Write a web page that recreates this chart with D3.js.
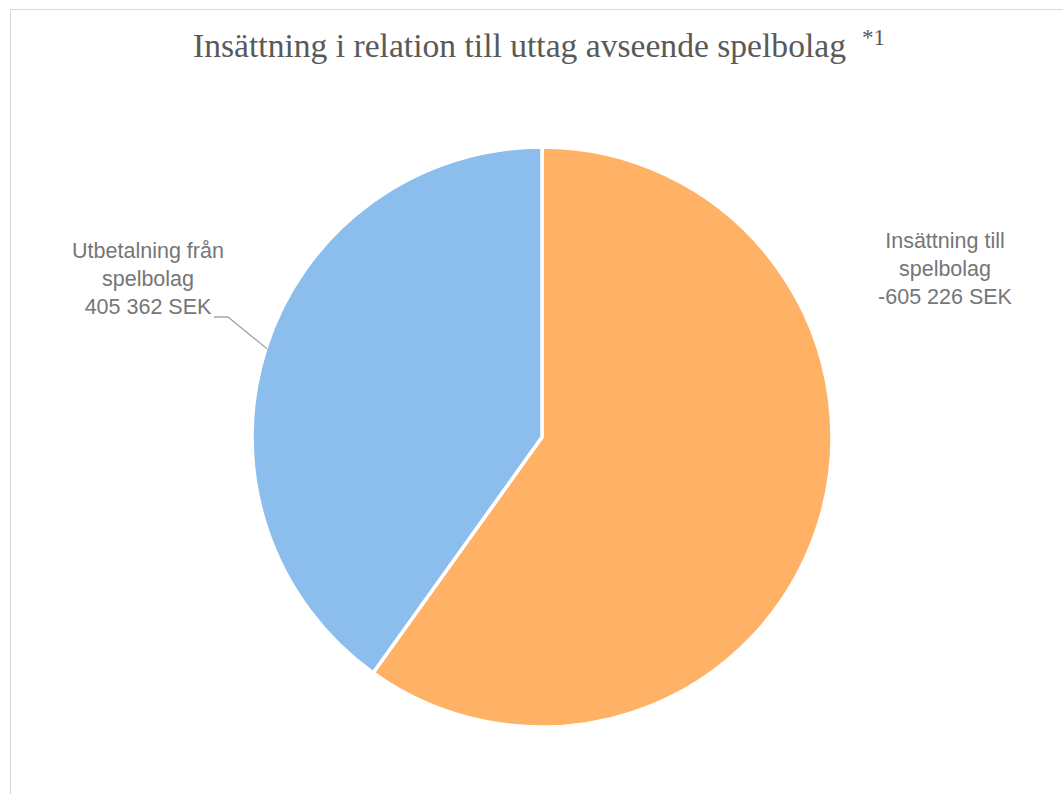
<!DOCTYPE html>
<html>
<head>
<meta charset="utf-8">
<script src="https://cdn.jsdelivr.net/npm/d3@7"></script>
<style>
  body { margin: 0; background: #fff; }
  svg text { fill: #595959; }
  svg text.slice-label { fill: #767676; }
</style>
</head>
<body>
<div id="chart"></div>
<script>
// data
const categories = ['Insättning till spelbolag', 'Utbetalning från spelbolag']
const labelLines = [['Insättning till', 'spelbolag', '-605 226 SEK'],
                    ['Utbetalning från', 'spelbolag', '405 362 SEK']]
const values = [605226, 405362]
const colors = ['#FFB266', '#8BBEEC']
const title = 'Insättning i relation till uttag avseende spelbolag'
const titleNote = '*1'

const width = 1063, height = 794
const cx = 542, cy = 437, radius = 290

const svg = d3.select('#chart').append('svg')
  .attr('width', width)
  .attr('height', height)

// chart frame
svg.append('rect')
  .attr('x', 10.5).attr('y', 9.5)
  .attr('width', width + 20).attr('height', height + 20)
  .attr('fill', 'none')
  .attr('stroke', '#d9d9d9')

// title
let titleText = svg.append('text')
  .attr('x', 193)
  .attr('y', 57)
  .attr('text-anchor', 'start')
  .style('font-family', '"Liberation Serif", "DejaVu Serif", serif')
titleText.append('tspan')
  .style('font-size', '34px')
  .attr('textLength', 653)
  .attr('lengthAdjust', 'spacingAndGlyphs')
  .text(title)
titleText.append('tspan')
  .attr('x', 862)
  .attr('y', 45)
  .style('font-size', '23px')
  .text(titleNote)

// pie
let pie = d3.pie().sort(null).value(function(d){ return d })
let arcs = pie(values)
let arc = d3.arc().innerRadius(0).outerRadius(radius)

let g = svg.append('g')
  .attr('transform', 'translate(' + cx + ',' + cy + ')')

g.selectAll('path.slice')
  .data(arcs)
  .enter().append('path')
  .attr('class', 'slice')
  .attr('d', arc)
  .attr('fill', function(d, i){ return colors[i] })
  .attr('stroke', '#fff')
  .attr('stroke-width', 3.5)
  .attr('stroke-linejoin', 'round')

// labels (positions follow the original layout)
let labelPos = [{x: 945, y: 248}, {x: 148, y: 258}]
let lineHeight = 28

labelLines.forEach(function(lines, i){
  let t = svg.append('text')
    .attr('class', 'slice-label')
    .attr('text-anchor', 'middle')
    .style('font-family', '"Liberation Sans", Arial, sans-serif')
    .style('font-size', '21.5px')
  lines.forEach(function(l, j){
    t.append('tspan')
      .attr('x', labelPos[i].x)
      .attr('y', labelPos[i].y + j * lineHeight)
      .text(l)
  })
})

// leader line for the blue slice
let mid = (arcs[1].startAngle + arcs[1].endAngle) / 2
let ex = cx + Math.sin(mid) * (radius - 1)
let ey = cy - Math.cos(mid) * (radius - 1)
svg.append('path')
  .attr('d', d3.line()([[ex, ey], [228, 317], [214, 317]]))
  .attr('fill', 'none')
  .attr('stroke', '#a6a6a6')
  .attr('stroke-width', 1.3)
</script>
</body>
</html>
